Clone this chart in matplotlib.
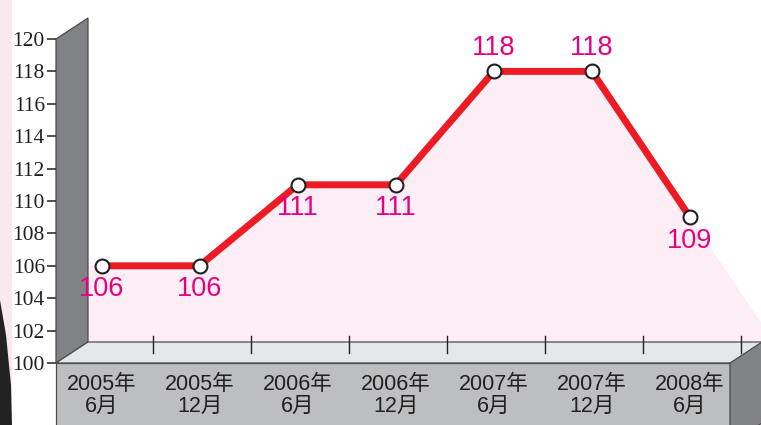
import matplotlib.pyplot as plt
from matplotlib.patches import Polygon, Rectangle

# data
periods = ['2005年\n6月', '2005年\n12月', '2006年\n6月', '2006年\n12月',
           '2007年\n6月', '2007年\n12月', '2008年\n6月']
values = [106, 106, 111, 111, 118, 118, 109]
label_above = [False, False, False, False, True, True, False]
yticks = list(range(100, 121, 2))

# colours
wall_col = '#808285'
floor_col = '#e6e7e8'
band_col = '#bcbec0'
edge_col = '#4d4d4f'
line_col = '#ed1c24'
label_col = '#e6007e'
fill_col = '#fdeef5'

W, H = 761, 425
fig = plt.figure(figsize=(W / 100, H / 100), dpi=100)

# background strip on the far left (piece of a photo)
bg = fig.add_axes([0, 0, 1, 1])
bg.set_xlim(0, W)
bg.set_ylim(H, 0)
bg.axis('off')
bg.add_patch(Rectangle((0, 0), 12, H, color='#fbe8ef', lw=0))
bg.add_patch(Polygon([(0, 300), (6, 335), (11, 385), (12, H), (0, H)],
                     closed=True, color='#222222', lw=0))

# main axes: x in category units, y in value units (front plane)
px_step, px_first = 98.08, 101.5
ax_left, ax_bottom_px, ax_top_px = 56, 363, 39
ax = fig.add_axes([ax_left / W, (H - ax_bottom_px) / H,
                   (W - ax_left) / W, (ax_bottom_px - ax_top_px) / H])
x0 = (ax_left - px_first) / px_step
x1 = (W - px_first) / px_step
ax.set_xlim(x0, x1)
ax.set_ylim(100, 120)
ax.patch.set_alpha(0)
for s in ax.spines.values():
    s.set_visible(False)

ypx = (ax_bottom_px - ax_top_px) / 20.0
ddx = 32 / px_step   # depth of the fake 3d box
ddy = 21 / ypx
band_right = (730 - px_first) / px_step

kw = dict(clip_on=False, lw=0.9, ec=edge_col)
# left wall
ax.add_patch(Polygon([(x0, 100), (x0, 120), (x0 + ddx, 120 + ddy), (x0 + ddx, 100 + ddy)],
                     closed=True, fc=wall_col, zorder=1, **kw))
# pink area under the line
xs = list(range(len(values)))
tail_y = values[-1] + (values[-1] - values[-2]) * (x1 - xs[-1])
poly = [(x0 + ddx, 100 + ddy), (x0 + ddx, values[0])]
poly += list(zip(xs, values))
poly += [(x1, tail_y), (x1, 100 + ddy)]
ax.add_patch(Polygon(poly, closed=True, fc=fill_col, lw=0, zorder=0.5, clip_on=False))
# floor
ax.add_patch(Polygon([(x0, 100), (x0 + ddx, 100 + ddy), (x1 + 1, 100 + ddy), (x1 + 1, 100)],
                     closed=True, fc=floor_col, zorder=1, **kw))
# front band and right face
ax.add_patch(Rectangle((x0, 95), band_right - x0, 5, fc=band_col, zorder=1.2, **kw))
ax.add_patch(Polygon([(band_right, 100), (band_right + ddx, 100 + ddy),
                      (band_right + ddx, 95 + ddy), (band_right, 95)],
                     closed=True, fc=wall_col, zorder=1.2, **kw))
# small separators on the floor
for i in range(len(values)):
    ax.plot([i + 0.52, i + 0.52], [100 + 10 / ypx, 100 + 27 / ypx], color='#231f20',
            lw=1.0, clip_on=False, zorder=1.3)

# line + markers
ax.plot(xs, values, color=line_col, lw=5, zorder=3, solid_capstyle='butt')
ax.plot(xs, values, 'o', ms=10, mfc='white', mec='#231f20', mew=1.5, zorder=4)
for x, v, up in zip(xs, values, label_above):
    ax.annotate(str(v), (x, v), xytext=(0, 17 if up else -17), textcoords='offset points',
                ha='center', va='center', color=label_col, fontsize=19.5,
                family='Liberation Sans', zorder=5)

# axes ticks
ax.set_yticks(yticks)
ax.set_yticklabels([str(t) for t in yticks], family='Liberation Serif', fontsize=15.5,
                   color='#231f20')
ax.tick_params(axis='y', length=6.5, width=1.2, color='#333333', pad=1.5)
ax.set_xticks(xs)
ax.set_xticklabels(periods, family=['Liberation Sans', 'Noto Sans CJK SC'], fontsize=15.5,
                   color='#231f20', linespacing=1.05)
ax.tick_params(axis='x', length=0, pad=8)

fig.savefig('out.png', dpi=100)
